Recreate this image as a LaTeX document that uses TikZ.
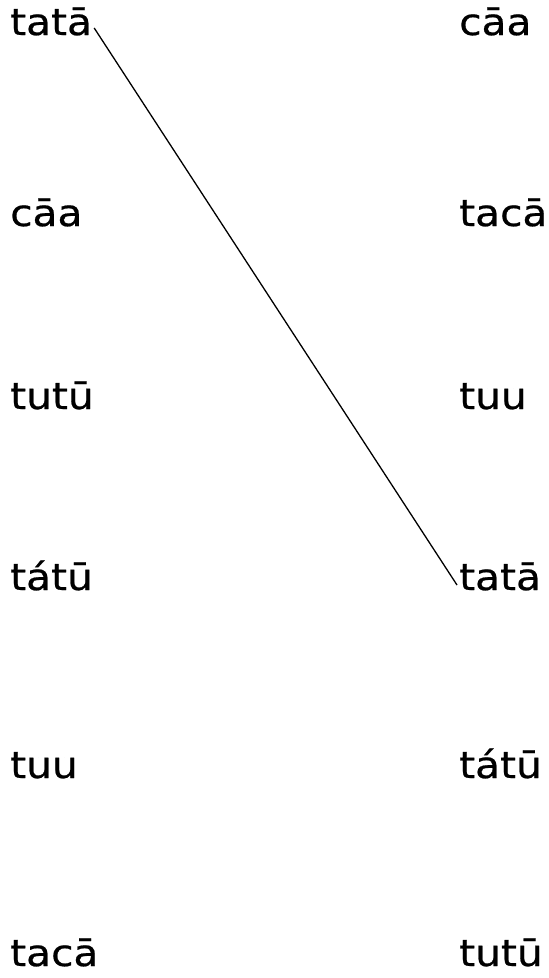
\documentclass[tikz,border=0pt]{standalone}
\usepackage{fontspec}
\setmainfont[FakeStretch=1.1,FakeBold=0.6]{DejaVu Sans}
\begin{document}
\begin{tikzpicture}[
			x=1pt,
			y=-1pt,
			tu/.style={anchor=base west, inner sep=2pt, font=\fontsize{37}{37}\selectfont}
		]
			% ===== MAU SAC =====
			\definecolor{MauNoi}{RGB}{0,0,0}

			% ===== KHUNG =====
			\useasboundingbox (0,0) rectangle (549,978);

			% ===== COT TRAI =====
			\node[tu] (L1) at (8,35) {tatā};
			\node[tu] (L2) at (8,226) {cāa};
			\node[tu] (L3) at (8,409) {tutū};
			\node[tu] (L4) at (8,590) {tátū};
			\node[tu] (L5) at (8,778) {tuu};
			\node[tu] (L6) at (8,966) {tacā};

			% ===== COT PHAI =====
			\node[tu] (R1) at (457,35) {cāa};
			\node[tu] (R2) at (457,226) {tacā};
			\node[tu] (R3) at (457,409) {tuu};
			\node[tu] (R4) at (457,590) {tatā};
			\node[tu] (R5) at (457,778) {tátū};
			\node[tu] (R6) at (457,966) {tutū};

			% ===== DUONG NOI =====
			\draw[MauNoi,line width=1.3pt]
				([yshift=7pt]L1.base east) -- ([yshift=5pt]R4.base west);

		\end{tikzpicture}
\end{document}
